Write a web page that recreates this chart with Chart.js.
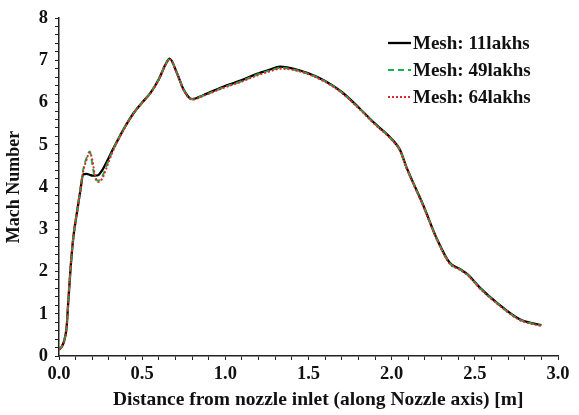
<!DOCTYPE html>
<html>
<head>
<meta charset="utf-8">
<script src="https://cdn.jsdelivr.net/npm/chart.js@4/dist/chart.umd.min.js"></script>
<style>
  html, body { margin: 0; padding: 0; background: #fff; }
  canvas { display: block; }
</style>
</head>
<body>
<canvas id="machChart" width="579" height="415"></canvas>
<script>
// --- data ---
const distance = [0.00, 0.016, 0.032, 0.046, 0.056, 0.07, 0.086, 0.11, 0.127, 0.146, 0.165, 0.185, 0.20, 0.215, 0.235, 0.26, 0.29, 0.325,
  0.40, 0.45, 0.50, 0.55, 0.60, 0.64, 0.665, 0.71, 0.75, 0.80, 0.87, 0.99, 1.10, 1.19, 1.26, 1.33, 1.40, 1.50, 1.60, 1.70, 1.80, 1.90,
  2.00, 2.05, 2.09, 2.19, 2.27, 2.35, 2.41, 2.46, 2.53, 2.63, 2.77, 2.90];

const mesh11 = [0.15, 0.22, 0.37, 0.69, 1.30, 2.10, 2.80, 3.45, 3.88, 4.30, 4.31, 4.29, 4.27, 4.27, 4.28, 4.40, 4.62, 4.90,
  5.45, 5.76, 6.00, 6.23, 6.55, 6.90, 7.04, 6.69, 6.30, 6.08, 6.18, 6.38, 6.53, 6.68, 6.77, 6.85, 6.81, 6.69, 6.51, 6.25, 5.89, 5.50,
  5.14, 4.88, 4.46, 3.57, 2.79, 2.20, 2.06, 1.92, 1.62, 1.27, 0.87, 0.73];

const mesh49 = [0.15, 0.22, 0.37, 0.69, 1.30, 2.10, 2.80, 3.45, 3.90, 4.42, 4.68, 4.84, 4.55, 4.22, 4.15, 4.25, 4.55, 4.88,
  5.45, 5.76, 6.00, 6.23, 6.55, 6.90, 7.03, 6.69, 6.30, 6.08, 6.17, 6.36, 6.51, 6.66, 6.75, 6.82, 6.79, 6.68, 6.50, 6.24, 5.88, 5.49,
  5.13, 4.87, 4.45, 3.56, 2.78, 2.19, 2.05, 1.91, 1.61, 1.26, 0.86, 0.72];

const mesh64 = [0.15, 0.22, 0.37, 0.69, 1.30, 2.10, 2.80, 3.45, 3.89, 4.38, 4.64, 4.82, 4.65, 4.30, 4.12, 4.20, 4.50, 4.86,
  5.44, 5.75, 6.00, 6.22, 6.54, 6.89, 7.02, 6.68, 6.29, 6.07, 6.16, 6.35, 6.50, 6.64, 6.73, 6.80, 6.78, 6.67, 6.49, 6.23, 5.87, 5.48,
  5.12, 4.86, 4.44, 3.55, 2.77, 2.18, 2.04, 1.90, 1.60, 1.25, 0.85, 0.71];

const seriesLabels = ['Mesh: 11lakhs', 'Mesh: 49lakhs', 'Mesh: 64lakhs'];
const xTitle = '    Distance from nozzle inlet (along Nozzle axis) [m]';
const yTitle = 'Mach Number';

const serif = "'Liberation Serif', 'Times New Roman', serif";

function toPoints(ys) {
  return distance.map((d, i) => ({ x: d, y: ys[i] }));
}

// legend drawn inside the plot, top right, like the original
const insideLegend = {
  id: 'insideLegend',
  afterDatasetsDraw(chart) {
    const ctx = chart.ctx;
    ctx.save();
    chart.data.datasets.forEach((ds, i) => {
      const y = 43 + i * 27;
      ctx.beginPath();
      ctx.strokeStyle = ds.borderColor;
      ctx.lineWidth = ds.borderWidth;
      ctx.setLineDash(ds.borderDash || []);
      ctx.moveTo(388, y);
      ctx.lineTo(411, y);
      ctx.stroke();
      ctx.setLineDash([]);
      ctx.fillStyle = '#111';
      ctx.font = 'bold 19px ' + serif;
      ctx.textBaseline = 'middle';
      ctx.fillText(ds.label, 413, y + 1);
    });
    ctx.restore();
  }
};

const ctx = document.getElementById('machChart').getContext('2d');
new Chart(ctx, {
  type: 'line',
  data: {
    datasets: [
      { label: seriesLabels[0], data: toPoints(mesh11), borderColor: '#000000', borderWidth: 2.3, order: 3 },
      { label: seriesLabels[1], data: toPoints(mesh49), borderColor: '#17b34a', borderWidth: 2, borderDash: [6, 4], order: 2 },
      { label: seriesLabels[2], data: toPoints(mesh64), borderColor: '#e3262a', borderWidth: 2, borderDash: [2, 2], order: 1 }
    ]
  },
  options: {
    responsive: false,
    animation: false,
    layout: { padding: { top: 14, right: 21, left: 0, bottom: 0 } },
    elements: {
      point: { radius: 0 },
      line: { cubicInterpolationMode: 'monotone', fill: false }
    },
    scales: {
      x: {
        type: 'linear', min: 0, max: 3,
        afterFit(scale) { scale.height = 59; },
        grid: { drawOnChartArea: false, tickLength: 4, tickColor: '#222', tickWidth: 1 },
        border: { color: '#222', width: 1.5 },
        ticks: {
          stepSize: 0.1, autoSkip: false, maxRotation: 0, padding: 3,
          color: '#111', font: { family: serif, size: 18.5, weight: 'bold' },
          callback: v => Math.abs(v * 2 - Math.round(v * 2)) < 1e-6 ? v.toFixed(1) : ''
        },
        title: { display: true, text: xTitle, color: '#111', padding: { top: 0, bottom: 3 },
          font: { family: serif, size: 19.5, weight: 'bold' } }
      },
      y: {
        min: 0, max: 8,
        afterFit(scale) { scale.width = 59; },
        grid: { drawOnChartArea: false, tickLength: 4, tickColor: '#222', tickWidth: 1 },
        border: { color: '#222', width: 1.5 },
        ticks: {
          stepSize: 0.2, autoSkip: false, padding: 7,
          color: '#111', font: { family: serif, size: 18.5, weight: 'bold' },
          callback: v => Math.abs(v - Math.round(v)) < 1e-6 ? String(Math.round(v)) : ''
        },
        title: { display: true, text: yTitle, color: '#111', padding: { top: 4, bottom: 0 },
          font: { family: serif, size: 18, weight: 'bold' } }
      }
    },
    plugins: {
      legend: { display: false },
      tooltip: { enabled: false }
    }
  },
  plugins: [insideLegend]
});
</script>
</body>
</html>
